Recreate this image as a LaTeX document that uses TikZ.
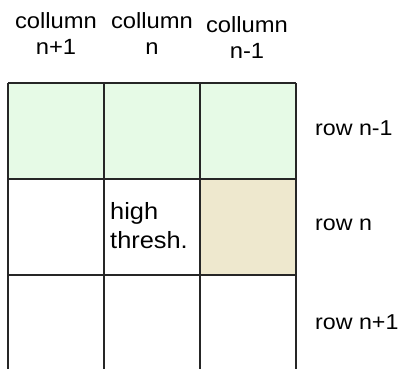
\documentclass[tikz,border=0pt]{standalone}
\usepackage{fontspec}
\setmainfont{Liberation Sans}
\newfontfamily\widesans[FakeStretch=1.08]{Liberation Sans}
\usetikzlibrary{positioning}
\definecolor{rowgreen}{HTML}{E6FAE6}
\definecolor{cellsand}{HTML}{EEE8CE}

\begin{document}
\begin{tikzpicture}[x=1pt,y=-1pt,
        lbl/.style={font=\widesans\fontsize{21.5}{26}\selectfont, inner sep=0pt},
        head/.style={lbl, font=\widesans\fontsize{22}{26}\selectfont, align=center},
        gridline/.style={draw=black!85, line width=1.3pt}]
        \useasboundingbox (0,0) rectangle (402,368);
        % shaded cells
        \path[fill=rowgreen] (8,83) rectangle (296,179);
        \path[fill=cellsand] (200,179) rectangle (296,275);
        % grid
        \foreach \x in {8,104,200,296} \path[gridline] (\x,83) -- (\x,371);
        \foreach \y in {83,179,275,371} \path[gridline] (8,\y) -- (296,\y);
        % columns
        \node[head] (colA) at (56,34) {collumn\\n+1};
        \node[head] (colB) at (152,34) {collumn\\n};
        \node[head] (colC) at (247,38) {collumn\\n-1};
        % rows
        \node[lbl, anchor=west] (rowA) at (315,128) {row n-1};
        \node[lbl, anchor=west] (rowB) at (315,225) {row n};
        \node[lbl, anchor=west] (rowC) at (315,322) {row n+1};
        \node[lbl, font=\widesans\fontsize{23.5}{29}\selectfont, align=left, anchor=north west] (thresh) at (110,202) {high\\thresh.};
      \end{tikzpicture}
\end{document}
